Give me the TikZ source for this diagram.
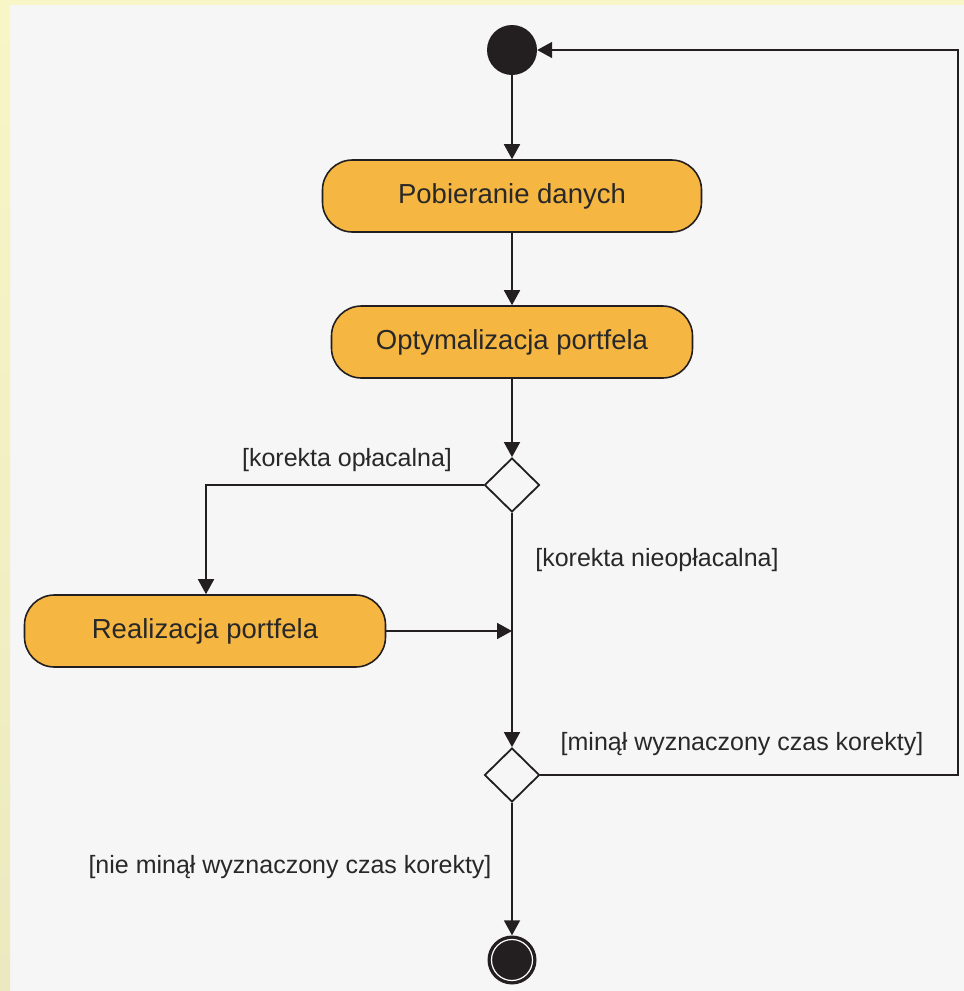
\documentclass[tikz,border=0pt]{standalone}
\usepackage{fontspec}
\setmainfont{Liberation Sans}
\usetikzlibrary{arrows.meta,shapes.geometric}
\definecolor{bgyel}{RGB}{248,246,198}
\definecolor{bgyel2}{RGB}{236,233,192}
\definecolor{bggray}{RGB}{246,246,246}
\definecolor{actfill}{RGB}{246,182,66}
\definecolor{ink}{RGB}{35,31,32}
\definecolor{txt}{RGB}{40,40,40}
\tikzset{
  actbox/.style={draw=ink, line width=1.6pt, fill=actfill, rounded corners=30pt,
    inner sep=0pt, minimum height=72pt, text=txt,
    font=\fontsize{27.5}{33}\selectfont},
  decision/.style={diamond, draw=ink, line width=1.8pt, fill=bggray, inner sep=0pt,
    minimum width=55pt, minimum height=54pt},
  flow/.style={draw=ink, line width=1.8pt, -{Triangle[width=16pt,length=15pt]}},
  guard/.style={text=txt, font=\fontsize{25}{30}\selectfont, inner sep=0pt},
}
\begin{document}
\begin{tikzpicture}[x=1pt,y=-1pt]
\useasboundingbox (0,0) rectangle (964,991);
% background
\fill[bggray] (0,0) rectangle (964,991);
\shade[top color=bgyel, bottom color=bgyel2] (0,0) rectangle (10,991);
\fill[bgyel] (0,0) rectangle (964,5);
% nodes
\node[circle, fill=ink, inner sep=0pt, minimum size=50pt] (start) at (512,50) {};
\node[actbox, minimum width=379pt] (pob) at (512,196) {Pobieranie danych};
\node[actbox, minimum width=361pt] (opt) at (512,342) {Optymalizacja portfela};
\node[decision] (d1) at (512,485) {};
\node[actbox, minimum width=361pt] (real) at (205,631) {Realizacja portfela};
\node[decision] (d2) at (512,775) {};
\node[circle, fill=ink, inner sep=0pt, minimum size=49pt] (end) at (512,960) {};
\draw[white, line width=1.2pt] (end.center) circle (20.5pt);
\coordinate (join) at (512,631);
\coordinate (rt) at (958,775);
\coordinate (rtop) at (958,50);
\coordinate (lft) at (206,485);
% labels
\node[guard] (l1) at (347,460) {[korekta opłacalna]};
\node[guard] (l2) at (657,560) {[korekta nieopłacalna]};
\node[guard] (l3) at (742,744) {[minął wyznaczony czas korekty]};
\node[guard] (l4) at (290,867) {[nie minął wyznaczony czas korekty]};
% connectors
\draw[flow] (start) -- (pob);
\draw[flow] (pob) -- (opt);
\draw[flow] (opt) -- (d1);
\draw[flow] (d1.west) -- (lft) -- (real.north -| lft);
\draw[flow] (real.east) -- (join);
\draw[flow] (d1.south) -- (d2.north);
\draw[flow] (d2.east) -- (rt) -- (rtop) -- (start.east);
\draw[flow] (d2.south) -- (end.north);
\end{tikzpicture}
\end{document}
